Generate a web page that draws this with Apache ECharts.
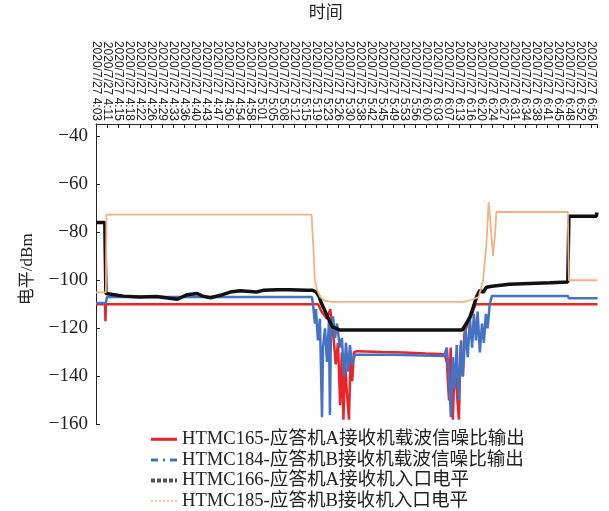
<!DOCTYPE html>
<html>
<head>
<meta charset="utf-8">
<title>电平</title>
<script src="https://cdn.jsdelivr.net/npm/echarts@6/dist/echarts.min.js"></script>
<style>
    html, body {margin: 0; padding: 0; background: #fff;}
    #chart {width: 609px; height: 511px;}
</style>
</head>
<body>
<div id="chart"></div>
<script type="text/javascript">
// tick labels on the top axis (one per integer position)
var timeLabels = ['4:03','4:11','4:15','4:18','4:22','4:26','4:29','4:33','4:36','4:40',
    '4:43','4:47','4:50','4:54','4:58','5:01','5:05','5:08','5:12','5:15',
    '5:19','5:23','5:26','5:30','5:38','5:42','5:45','5:49','5:53','5:56',
    '6:00','6:03','6:07','6:13','6:16','6:20','6:24','6:27','6:31','6:34',
    '6:38','6:41','6:45','6:48','6:52','6:56'];

var seriesNames = ['HTMC165-应答机A接收机载波信噪比输出', 'HTMC184-应答机B接收机载波信噪比输出',
    'HTMC166-应答机A接收机入口电平', 'HTMC185-应答机B接收机入口电平'];

// [position on time axis, dBm]
var snrA = [[0,-110],[0.82,-110],[0.86,-117],[0.9,-110],[19.64,-110],[20.2,-110],[20.5,-113],
    [21.0,-116],[21.3,-112],[21.6,-124],[21.8,-135],[22.0,-126],[22.2,-152],[22.35,-130],
    [22.5,-158],[22.65,-134],[22.8,-146],[23.0,-158],[23.15,-132],[23.3,-142],[23.45,-130],
    [23.7,-129.5],[26,-129.8],[28,-130],[30,-130.5],[31.7,-130.8],[31.9,-134],[32.1,-150],
    [32.25,-128],[32.45,-158],[32.6,-135],[32.8,-146],[33.0,-158],[33.15,-127],[33.35,-140],
    [33.5,-122],[33.8,-118],[34.2,-114],[34.5,-110],[45.6,-110]];

var snrB = [[0,-109.5],[0.9,-109.5],[1.0,-107],[19.64,-107],[19.73,-110],[19.91,-118],[20.0,-112],
    [20.18,-125],[20.36,-116],[20.55,-157],[20.64,-128],[20.82,-120],[21.0,-134],[21.18,-117],
    [21.27,-156],[21.36,-122],[21.55,-115],[21.73,-124],[21.91,-118],[22.18,-128],[22.36,-124],
    [22.55,-140],[22.73,-126],[22.91,-138],[23.09,-127],[23.27,-135],[23.55,-131],[27,-131],
    [31.64,-131.5],[31.9,-128],[32.1,-140],[32.27,-157],[32.45,-132],[32.6,-145],[32.8,-127],
    [33.0,-150],[33.2,-125],[33.36,-140],[33.6,-120],[33.8,-132],[34.0,-116],[34.2,-128],
    [34.36,-114],[34.55,-125],[34.7,-113],[34.9,-130],[35.1,-118],[35.27,-126],[35.45,-114],
    [35.6,-120],[35.8,-110],[36.0,-106.5],[42.9,-106.5],[43.0,-107.5],[45.6,-107.5]];

var levelA = [[0,-76],[0.8,-76],[0.9,-105.5],[1.0,-105.5],[2.5,-106.6],[4,-107],[5.5,-106.8],
    [6.7,-107.5],[7.4,-107.9],[8.3,-106],[9.2,-105.5],[9.7,-106.6],[10.4,-107.3],[11.5,-106],
    [12.2,-104.9],[13.1,-104.4],[14.6,-104.9],[15.2,-104.2],[16.5,-103.9],[17.6,-103.9],
    [19.2,-104.2],[19.7,-104.2],[20.0,-104.7],[20.3,-106.9],[20.5,-109.6],[20.9,-113.6],
    [21.2,-116.6],[21.5,-119.4],[22.2,-120.7],[33.3,-120.7],[33.7,-117.8],[34.0,-115.3],
    [34.3,-111.2],[34.6,-107],[34.9,-104.2],[35.2,-105],[35.5,-102.9],[36.0,-102.5],
    [37.6,-101.7],[39.4,-101.3],[41.3,-101],[42.9,-100.7],[43.0,-73.4],[45.5,-73.4],[45.55,-71.8]];

var levelB = [[0,-105],[0.9,-105],[0.95,-72.7],[19.6,-72.7],[19.75,-85],[19.9,-100],[20.1,-104],
    [20.4,-107],[20.8,-108.5],[21.5,-109],[33.5,-109],[34.2,-108],[34.8,-107],[35.2,-100],
    [35.5,-85],[35.7,-67.5],[35.9,-78],[36.1,-90],[36.3,-80],[36.4,-71.6],[42.9,-71.6],
    [43.0,-100],[45.6,-100]];

var colors = ['#e8262a', '#4472c4', '#111111', '#f4b183'];
var serif = '"Liberation Serif", "Noto Sans CJK SC", serif';

var chart = echarts.init(document.getElementById('chart'));

function timeLabel(v) {
    var i = Math.round(v);
    if (Math.abs(v - i) > 1e-6 || !timeLabels[i]) return '';
    return '2020/7/27 ' + timeLabels[i];
}

var xLabelStyle = {
    rotate: 90,
    margin: 3,
    fontFamily: 'Liberation Sans, Arial, sans-serif',
    fontSize: 12,
    color: '#222'
};

var option = {
    animation: false,
    grid: {left: 96, right: 11.5, top: 124, bottom: 86.5},
    legend: {
        orient: 'vertical',
        left: 149,
        top: 430,
        padding: 0,
        itemGap: 2,
        itemWidth: 26,
        itemHeight: 14,
        itemStyle: {opacity: 0},
        textStyle: {fontFamily: serif, fontSize: 18.6, color: '#222', lineHeight: 18},
        data: [
            {name: seriesNames[0], lineStyle: {type: 'solid', width: 3}},
            {name: seriesNames[1], lineStyle: {type: [7, 5, 2, 5], width: 3}},
            {name: seriesNames[2], lineStyle: {type: [4, 2], width: 4, color: '#555'}},
            {name: seriesNames[3], lineStyle: {type: [2, 2], width: 1.5}}
        ]
    },
    xAxis: [{
        type: 'value',
        position: 'top',
        min: 0,
        max: 45.6,
        interval: 1,
        name: '时间',
        nameLocation: 'middle',
        nameGap: 102,
        nameTextStyle: {fontFamily: serif, fontSize: 17, color: '#222', padding: [0, 42, 0, 0]},
        axisLine: {lineStyle: {color: '#222', width: 1}},
        axisTick: {inside: true, length: 4, lineStyle: {color: '#222'}},
        splitLine: {show: false},
        axisLabel: Object.assign({showMinLabel: false, formatter: timeLabel}, xLabelStyle)
    }, {
        // only carries the first label, which the main axis drops for overlap
        type: 'value',
        position: 'top',
        min: 0,
        max: 45.6,
        interval: 1,
        axisLine: {show: false},
        axisTick: {show: false},
        splitLine: {show: false},
        axisLabel: Object.assign({
            showMinLabel: true,
            formatter: function (v) { return v === 0 ? timeLabel(0) : ''; }
        }, xLabelStyle)
    }],
    yAxis: {
        type: 'value',
        min: -160,
        max: -35,
        interval: 20,
        name: '电平/dBm',
        nameLocation: 'middle',
        nameGap: 60,
        nameRotate: 90,
        nameTextStyle: {fontFamily: serif, fontSize: 17, color: '#222', padding: [0, 0, 0, 10]},
        axisLine: {show: true, lineStyle: {color: '#222', width: 1}},
        axisTick: {inside: true, length: 4, lineStyle: {color: '#222'}},
        splitLine: {show: false},
        axisLabel: {
            margin: 8,
            fontFamily: serif,
            fontSize: 19,
            color: '#222',
            formatter: function (v) {
                if (v % 20 !== 0) return '';
                return String(v).replace('-', '\u2212');
            }
        }
    },
    series: [
        {name: seriesNames[0], type: 'line', data: snrA, symbol: 'none', color: colors[0],
            lineStyle: {width: 2.5}},
        {name: seriesNames[1], type: 'line', data: snrB, symbol: 'none', color: colors[1],
            lineStyle: {width: 2.5}},
        {name: seriesNames[2], type: 'line', data: levelA, symbol: 'none', color: colors[2],
            lineStyle: {width: 3.5}},
        {name: seriesNames[3], type: 'line', data: levelB, symbol: 'none', color: colors[3],
            lineStyle: {width: 1.8}}
    ]
};

chart.setOption(option);
</script>
</body>
</html>
